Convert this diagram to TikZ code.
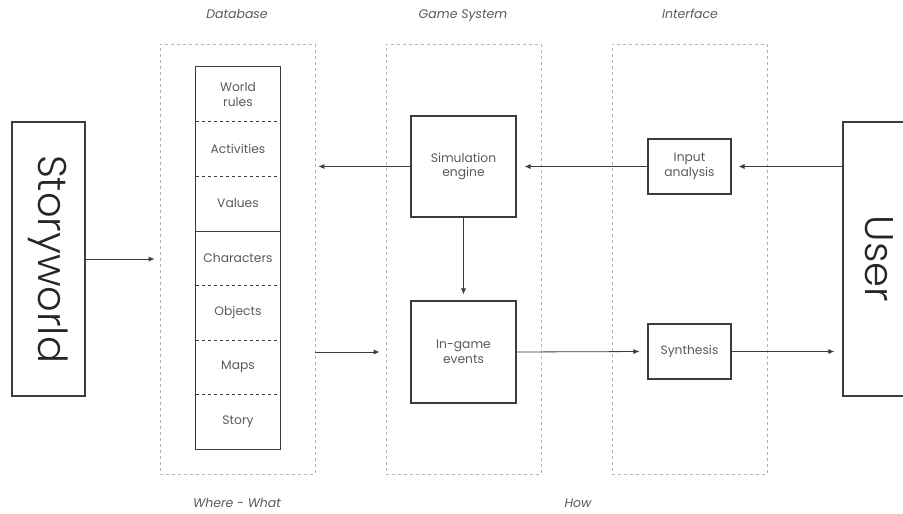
\documentclass[tikz,border=0pt]{standalone}
\usepackage{fontspec}
\setmainfont{Poppins}
\newfontfamily\thinfont{Poppins Light}
\usetikzlibrary{arrows.meta}

\definecolor{txtgray}{HTML}{5A5A5A}
\definecolor{linegray}{HTML}{3C3C3C}
\definecolor{panelgray}{HTML}{B4B4B4}

\tikzset{
  panel/.style={draw=panelgray, dash pattern=on 3pt off 3pt, line width=0.7pt, minimum width=155pt, minimum height=430pt},
  head/.style={anchor=base, text=txtgray, font=\itshape\fontsize{12.5}{14}\selectfont},
  block/.style={draw=linegray, line width=1.1pt, align=center, text=txtgray, font=\fontsize{12.3}{14.5}\selectfont},
  cell/.style={minimum width=84pt, minimum height=54.6pt, align=center, inner sep=0pt, text=txtgray, font=\fontsize{12.3}{14.5}\selectfont},
  side/.style={draw=linegray, line width=1.1pt, rotate=-90, minimum width=274pt, minimum height=73pt, text=black!85, font=\thinfont\fontsize{40}{42}\selectfont},
  conn/.style={->, draw=linegray, line width=0.8pt},
}

\begin{document}
\begin{tikzpicture}[x=1pt, y=-1pt, >={Latex[length=6pt,width=5pt]}]
	\clip (0,0) rectangle (903,514);
	% columns
	\node[panel] (p-db) at (237.5,259) {};
	\node[panel] (p-gs) at (463.5,259) {};
	\node[panel] (p-if) at (689.5,259) {};
	\node[head] (h-db) at (237,19) {Database};
	\node[head] (h-gs) at (463,19) {Game System};
	\node[head] (h-if) at (690,19) {Interface};
	\node[head] (h-where) at (237,507) {Where - What};
	\node[head] (h-how) at (578,507) {How};
	% database
	\foreach \name [count=\i] in {{World\\rules},Activities,Values,Characters,Objects,Maps,Story}{%
		\node[cell] (db-\i) at (238,{94.3+(\i-1)*54.6}) {\name};
	}
	\draw[draw=linegray, line width=1.1pt] (db-1.north west) rectangle (db-7.south east);
	\foreach \i/\s in {1/dashed,2/dashed,3/solid,4/dashed,5/dashed,6/dashed}{%
		\draw[draw=linegray, line width=0.9pt, \s] (db-\i.south west) -- (db-\i.south east);
	}
	% game system and interface
	\node[block, minimum width=105pt, minimum height=101pt] (sim) at (463.5,166.5) {Simulation\\engine};
	\node[block, minimum width=105pt, minimum height=102pt] (ev) at (463.5,352) {In-game\\events};
	\node[block, minimum width=83pt, minimum height=55pt] (inp) at (689.5,166.5) {Input\\analysis};
	\node[block, minimum width=83pt, minimum height=55pt] (syn) at (689.5,351.5) {Synthesis};
	% outside
	\node[side] (world) at (48.5,259) {Storyworld};
	\node[side] (user) at (879.5,259) {User};
	% connectors
	\draw[conn, shorten >=5pt] (world.north) -- (p-db.west);
	\draw[conn, shorten >=3pt] (sim.west) -- (sim.west -| p-db.east);
	\draw[conn, shorten >=8pt] (inp.west) -- (sim.east);
	\draw[conn, shorten >=7pt] (inp.east -| user.south) -- (inp.east);
	\draw[conn, shorten >=6pt] (sim.south) -- (ev.north);
	\draw[conn, shorten >=6pt] (ev.west -| p-db.east) -- (ev.west -| p-gs.west);
	\draw[conn, shorten >=8pt] (ev.east) -- (syn.west);
	\draw[conn, shorten >=8pt] (syn.east) -- (syn.east -| user.south);
\end{tikzpicture}
\end{document}
